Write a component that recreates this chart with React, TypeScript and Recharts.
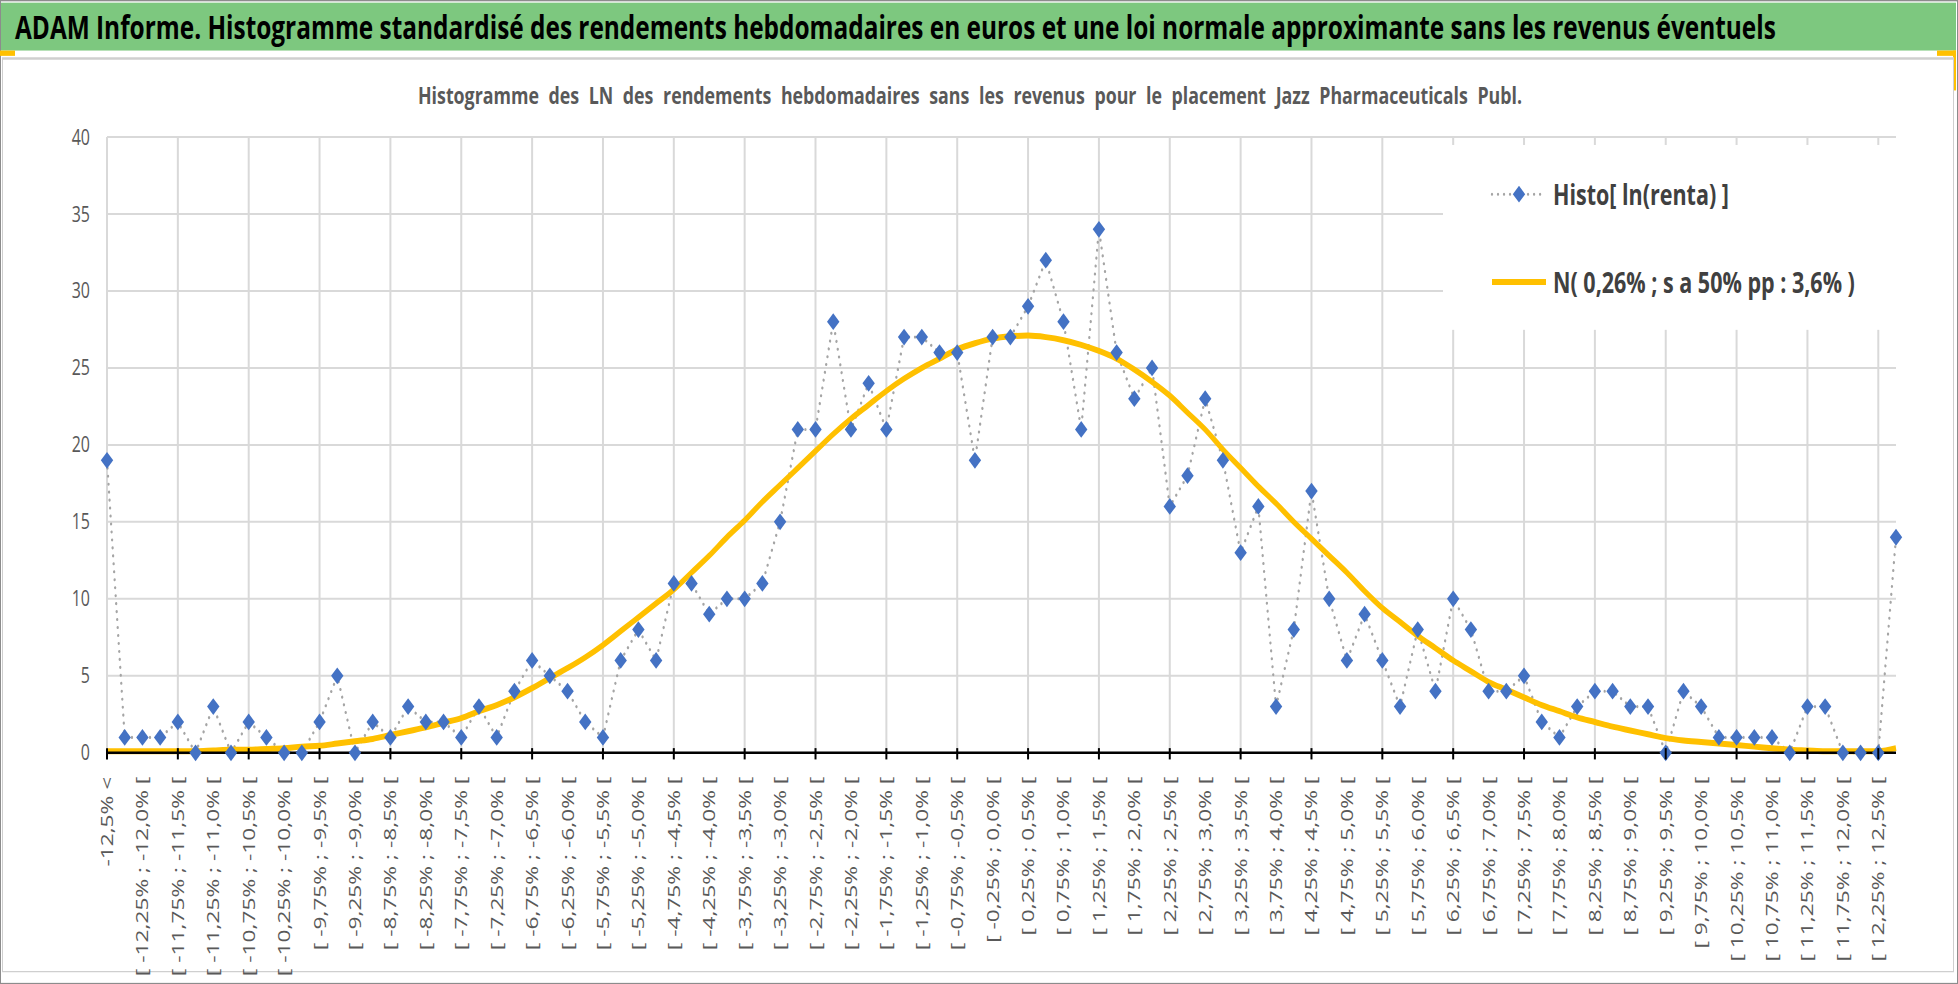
import { LineChart, Line, XAxis, YAxis, CartesianGrid, ReferenceLine, Legend } from "recharts";

// classes des LN des rendements hebdomadaires (pas de 0,25 %)
const categories = [
  "-12,5% <",
  "[ -12,5% ; -12,25% [", "[ -12,25% ; -12,0% [", "[ -12,0% ; -11,75% [", "[ -11,75% ; -11,5% [",
  "[ -11,5% ; -11,25% [", "[ -11,25% ; -11,0% [", "[ -11,0% ; -10,75% [", "[ -10,75% ; -10,5% [",
  "[ -10,5% ; -10,25% [", "[ -10,25% ; -10,0% [", "[ -10,0% ; -9,75% [", "[ -9,75% ; -9,5% [",
  "[ -9,5% ; -9,25% [", "[ -9,25% ; -9,0% [", "[ -9,0% ; -8,75% [", "[ -8,75% ; -8,5% [",
  "[ -8,5% ; -8,25% [", "[ -8,25% ; -8,0% [", "[ -8,0% ; -7,75% [", "[ -7,75% ; -7,5% [",
  "[ -7,5% ; -7,25% [", "[ -7,25% ; -7,0% [", "[ -7,0% ; -6,75% [", "[ -6,75% ; -6,5% [",
  "[ -6,5% ; -6,25% [", "[ -6,25% ; -6,0% [", "[ -6,0% ; -5,75% [", "[ -5,75% ; -5,5% [",
  "[ -5,5% ; -5,25% [", "[ -5,25% ; -5,0% [", "[ -5,0% ; -4,75% [", "[ -4,75% ; -4,5% [",
  "[ -4,5% ; -4,25% [", "[ -4,25% ; -4,0% [", "[ -4,0% ; -3,75% [", "[ -3,75% ; -3,5% [",
  "[ -3,5% ; -3,25% [", "[ -3,25% ; -3,0% [", "[ -3,0% ; -2,75% [", "[ -2,75% ; -2,5% [",
  "[ -2,5% ; -2,25% [", "[ -2,25% ; -2,0% [", "[ -2,0% ; -1,75% [", "[ -1,75% ; -1,5% [",
  "[ -1,5% ; -1,25% [", "[ -1,25% ; -1,0% [", "[ -1,0% ; -0,75% [", "[ -0,75% ; -0,5% [",
  "[ -0,5% ; -0,25% [", "[ -0,25% ; 0,0% [", "[ 0,0% ; 0,25% [", "[ 0,25% ; 0,5% [",
  "[ 0,5% ; 0,75% [", "[ 0,75% ; 1,0% [", "[ 1,0% ; 1,25% [", "[ 1,25% ; 1,5% [",
  "[ 1,5% ; 1,75% [", "[ 1,75% ; 2,0% [", "[ 2,0% ; 2,25% [", "[ 2,25% ; 2,5% [",
  "[ 2,5% ; 2,75% [", "[ 2,75% ; 3,0% [", "[ 3,0% ; 3,25% [", "[ 3,25% ; 3,5% [",
  "[ 3,5% ; 3,75% [", "[ 3,75% ; 4,0% [", "[ 4,0% ; 4,25% [", "[ 4,25% ; 4,5% [",
  "[ 4,5% ; 4,75% [", "[ 4,75% ; 5,0% [", "[ 5,0% ; 5,25% [", "[ 5,25% ; 5,5% [",
  "[ 5,5% ; 5,75% [", "[ 5,75% ; 6,0% [", "[ 6,0% ; 6,25% [", "[ 6,25% ; 6,5% [",
  "[ 6,5% ; 6,75% [", "[ 6,75% ; 7,0% [", "[ 7,0% ; 7,25% [", "[ 7,25% ; 7,5% [",
  "[ 7,5% ; 7,75% [", "[ 7,75% ; 8,0% [", "[ 8,0% ; 8,25% [", "[ 8,25% ; 8,5% [",
  "[ 8,5% ; 8,75% [", "[ 8,75% ; 9,0% [", "[ 9,0% ; 9,25% [", "[ 9,25% ; 9,5% [",
  "[ 9,5% ; 9,75% [", "[ 9,75% ; 10,0% [", "[ 10,0% ; 10,25% [", "[ 10,25% ; 10,5% [",
  "[ 10,5% ; 10,75% [", "[ 10,75% ; 11,0% [", "[ 11,0% ; 11,25% [", "[ 11,25% ; 11,5% [",
  "[ 11,5% ; 11,75% [", "[ 11,75% ; 12,0% [", "[ 12,0% ; 12,25% [", "[ 12,25% ; 12,5% [",
  "12,5% <=",
];

// Histo[ ln(renta) ] : effectifs par classe
const histo = [
  19, 1, 1, 1, 2, 0, 3, 0, 2, 1, 0, 0, 2, 5, 0, 2, 1, 3, 2, 2,
  1, 3, 1, 4, 6, 5, 4, 2, 1, 6, 8, 6, 11, 11, 9, 10, 10, 11, 15, 21,
  21, 28, 21, 24, 21, 27, 27, 26, 26, 19, 27, 27, 29, 32, 28, 21, 34, 26, 23, 25,
  16, 18, 23, 19, 13, 16, 3, 8, 17, 10, 6, 9, 6, 3, 8, 4, 10, 8, 4, 4,
  5, 2, 1, 3, 4, 4, 3, 3, 0, 4, 3, 1, 1, 1, 1, 0, 3, 3, 0, 0,
  0, 14,
];

// N( 0,26% ; s a 50% pp : 3,6% )
const normale = [
  0.1, 0.1, 0.1, 0.1, 0.1, 0.1, 0.15, 0.2, 0.2, 0.25, 0.3, 0.4, 0.45, 0.6, 0.75, 0.9, 1.15, 1.4, 1.65, 1.95,
  2.25, 2.7, 3.1, 3.6, 4.2, 4.85, 5.5, 6.2, 7.0, 7.9, 8.8, 9.7, 10.6, 11.7, 12.8, 14.0, 15.1, 16.3, 17.4, 18.5,
  19.6, 20.7, 21.7, 22.6, 23.5, 24.3, 25.0, 25.6, 26.2, 26.6, 26.9, 27.05, 27.1, 27.0, 26.8, 26.5, 26.1, 25.6, 24.9, 24.1,
  23.2, 22.1, 21.0, 19.7, 18.5, 17.3, 16.2, 15.0, 13.9, 12.8, 11.7, 10.5, 9.4, 8.5, 7.6, 6.8, 6.0, 5.3, 4.6, 4.1,
  3.6, 3.1, 2.7, 2.3, 2.0, 1.7, 1.45, 1.2, 0.95, 0.8, 0.7, 0.6, 0.5, 0.4, 0.3, 0.2, 0.15, 0.1, 0.1, 0.1,
  0.1, 0.3,
];

const yTicks = [0, 5, 10, 15, 20, 25, 30, 35, 40];

const data = categories.map((cat, i) => ({ cat, histo: histo[i], normale: normale[i] }));
const gridCats = categories.filter((_, i) => i % 4 === 0);

const S = 1.33; // the reference is stretched vertically
const GREY = "#595959";

function XTick(props: any) {
  const { x, y, payload } = props;
  const idx = categories.indexOf(payload.value);
  return (
    <g transform={`translate(${x},${y})`}>
      {idx % 4 === 0 && <line x1={0} x2={0} y1={-21.5} y2={-13} stroke="#000" strokeWidth={2} />}
      <text
        transform="rotate(-90)"
        textAnchor="end"
        dy="0.35em"
        fontSize={17.1}
        fontFamily="Open Sans"
        fill={GREY}
      >
        {payload.value}
      </text>
    </g>
  );
}

function renderDiamond(p: any) {
  const { cx, cy, index } = p;
  if (cx == null || cy == null) return <g key={index} />;
  const w = 6.2;
  const h = 6.3;
  return (
    <polygon
      key={index}
      points={`${cx},${cy - h} ${cx + w},${cy} ${cx},${cy + h} ${cx - w},${cy}`}
      fill="#4472C4"
    />
  );
}

function LegendBox() {
  const txt = { fontFamily: "Open Sans", fontWeight: 700, fontSize: 21.5, color: "#404040", whiteSpace: "pre" as const };
  return (
    <div style={{ position: "relative", width: "100%", height: "100%" }}>
      <div style={{ position: "absolute", left: 47, top: 22, display: "flex", alignItems: "center" }}>
        <svg width={58} height={20}>
          <line x1={2} x2={56} y1={10} y2={10} stroke="#a5a5a5" strokeWidth={2.3} strokeDasharray="0.01 6" strokeLinecap="round" />
          <polygon points="29,3.7 35.2,10 29,16.3 22.8,10" fill="#4472C4" />
        </svg>
        <span style={{ ...txt, marginLeft: 5 }}>Histo[ ln(renta) ]</span>
      </div>
      <div style={{ position: "absolute", left: 47, top: 88, display: "flex", alignItems: "center" }}>
        <svg width={58} height={20}>
          <line x1={2} x2={56} y1={10} y2={10} stroke="#FFC000" strokeWidth={4.5} />
        </svg>
        <span style={{ ...txt, marginLeft: 5 }}>N( 0,26% ; s a 50% pp : 3,6% )</span>
      </div>
    </div>
  );
}

export default function App() {
  return (
    <div
      style={{
        position: "absolute",
        left: 0,
        top: 0,
        width: 1958,
        height: 740,
        background: "#fff",
        transform: `scaleY(${S})`,
        transformOrigin: "0 0",
        overflow: "hidden",
      }}
    >
      {/* bandeau */}
      <div style={{ position: "absolute", left: 0, top: 0, width: 1958, height: 740, border: "1px solid #8c8c8c", boxSizing: "border-box" }} />
      <div style={{ position: "absolute", left: 1, top: 2, width: 1955, height: 36, background: "#7DC87F" }} />
      <div
        style={{
          position: "absolute",
          left: 15,
          top: 2,
          height: 36,
          lineHeight: "36px",
          fontFamily: "Open Sans",
          fontWeight: 700,
          fontSize: 24.4,
          color: "#000",
          whiteSpace: "nowrap",
        }}
      >
        ADAM Informe. Histogramme standardisé des rendements hebdomadaires en euros et une loi normale approximante sans les revenus éventuels
      </div>
      <div style={{ position: "absolute", left: 0, top: 38, width: 15, height: 4, background: "#FFC000" }} />
      <div style={{ position: "absolute", left: 1937, top: 38, width: 19, height: 4, background: "#FFC000" }} />
      <div style={{ position: "absolute", left: 1953, top: 38, width: 3, height: 30, background: "#FFC000" }} />

      {/* zone du graphique */}
      <div style={{ position: "absolute", left: 2, top: 42.5, width: 1952, height: 688, border: "1.5px solid #cfcfcf", borderTopWidth: 2, boxSizing: "border-box" }} />
      <div
        style={{
          position: "absolute",
          left: 0,
          width: 1940,
          top: 60,
          lineHeight: "22px",
          textAlign: "center",
          fontFamily: "Open Sans",
          fontWeight: 700,
          fontSize: 17.8,
          wordSpacing: 5,
          color: GREY,
          whiteSpace: "nowrap",
        }}
      >
        Histogramme des LN des rendements hebdomadaires sans les revenus pour le placement Jazz Pharmaceuticals Publ.
      </div>

      <div style={{ position: "absolute", left: 0, top: 0 }}>
        <LineChart width={1958} height={740} data={data} margin={{ top: 103, right: 62, bottom: 24, left: 57 }}>
          <CartesianGrid vertical={false} stroke="#d9d9d9" strokeWidth={1.5} />
          {gridCats.map((c) => (
            <ReferenceLine key={c} x={c} stroke="#d9d9d9" strokeWidth={2} />
          ))}
          <YAxis
            domain={[0, 40]}
            ticks={yTicks}
            interval={0}
            axisLine={false}
            tickLine={false}
            width={50}
            tickMargin={11}
            tick={{ fill: GREY, fontSize: 16, fontFamily: "Open Sans" }}
          />
          <XAxis
            dataKey="cat"
            scale="point"
            interval={1}
            height={150}
            axisLine={{ stroke: "#000", strokeWidth: 2 }}
            tickLine={false}
            tickSize={6}
            tickMargin={12}
            tick={(p: any) => <XTick {...p} />}
          />
          <Legend
            layout="vertical"
            align="center"
            verticalAlign="middle"
            wrapperStyle={{ left: 1443, top: 109, width: 453, height: 139, background: "#fff" }}
            content={() => <LegendBox />}
          />
          <Line
            type="linear"
            dataKey="histo"
            stroke="#a5a5a5"
            strokeWidth={2.3}
            strokeDasharray="0.01 6"
            strokeLinecap="round"
            dot={renderDiamond}
            activeDot={false}
            isAnimationActive={false}
          />
          <Line
            type="monotone"
            dataKey="normale"
            stroke="#FFC000"
            strokeWidth={4.5}
            dot={false}
            activeDot={false}
            isAnimationActive={false}
          />
        </LineChart>
      </div>
    </div>
  );
}
